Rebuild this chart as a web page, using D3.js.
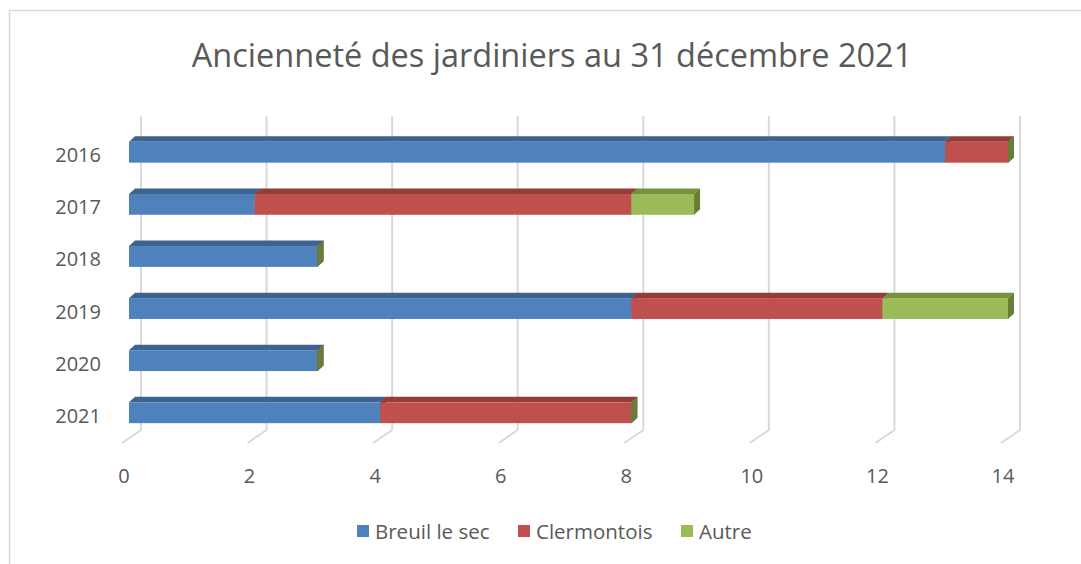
<!DOCTYPE html>
<html>
<head>
<meta charset="utf-8">
<script src="https://cdn.jsdelivr.net/npm/d3@7"></script>
<style>
  body { margin: 0; background: #fff; }
  text { font-family: "Open Sans", sans-serif; fill: #595959; }
</style>
</head>
<body>
<svg width="1081" height="564"></svg>
<script>
const years = ['2016', '2017', '2018', '2019', '2020', '2021'];
const seriesNames = ['Breuil le sec', 'Clermontois', 'Autre'];
const breuil = [13, 2, 3, 8, 3, 4];
const clermontois = [1, 6, 0, 4, 0, 4];
const autre = [0, 1, 0, 2, 0, 0];
const xTicks = [0, 2, 4, 6, 8, 10, 12, 14];

const colors = ['#4f81bd', '#c0504d', '#9bbb59'];
const topColors = ['#3d6391', '#933c3a', '#77913f'];
const sideColors = ['#37587f', '#7f3331', '#677e36'];

const svg = d3.select('svg');
const width = Number(svg.attr('width')), height = Number(svg.attr('height'));

// chart frame
svg.append('rect')
    .attr('x', 9.5).attr('y', 10.5)
    .attr('width', width + 20).attr('height', height + 20)
    .attr('fill', 'none').attr('stroke', '#d9d9d9').attr('stroke-width', 1.5);

svg.append('text')
    .attr('x', 552).attr('y', 67)
    .attr('text-anchor', 'middle')
    .style('font-size', '32.5px')
    .text('Ancienneté des jardiniers au 31 décembre 2021');

const dx = 6, dy = 5.5;           // bar depth
const wallDx = 12, floorDx = -7;  // back wall / floor front offsets

const xScale = d3.scaleLinear().domain([0, 14]).range([129, 1008]);
const yScale = d3.scaleBand().domain(years).range([121, 444])
    .paddingInner(0.6).paddingOuter(0.4);

// back wall gridlines + floor
const grid = svg.append('g');
xTicks.forEach(t => {
    const xb = xScale(t) + wallDx;
    grid.append('path')
        .attr('d', `M${xb},116 L${xb},430 L${xScale(t) + floorDx},443`)
        .attr('fill', 'none').attr('stroke', '#d9d9d9').attr('stroke-width', 2);
});

// x axis labels
svg.append('g').selectAll('text').data(xTicks).enter().append('text')
    .attr('x', d => xScale(d) + floorDx + 2)
    .attr('y', 483)
    .attr('text-anchor', 'middle')
    .style('font-size', '20px')
    .text(d => d);

// y axis labels
svg.append('g').selectAll('text').data(years).enter().append('text')
    .attr('x', 101)
    .attr('y', d => yScale(d) + yScale.bandwidth() / 2 + 10)
    .attr('text-anchor', 'end')
    .style('font-size', '20px')
    .text(d => d);

// stacked 3d bars
const table = years.map((y, i) => ({ year: y, 'Breuil le sec': breuil[i], 'Clermontois': clermontois[i], 'Autre': autre[i] }));
const stacked = d3.stack().keys(seriesNames)(table);

const h = yScale.bandwidth();
years.forEach((yr, i) => {
    const g = svg.append('g');
    const y0 = yScale(yr);
    stacked.forEach((s, k) => {
        const x0 = xScale(s[i][0]), x1 = xScale(s[i][1]);
        if (x1 > x0) {
            // top face
            g.append('path')
                .attr('d', `M${x0},${y0} L${x0 + dx},${y0 - dy} L${x1 + dx},${y0 - dy} L${x1},${y0} Z`)
                .attr('fill', topColors[k]);
            // front face
            g.append('rect')
                .attr('x', x0).attr('y', y0)
                .attr('width', x1 - x0).attr('height', h)
                .attr('fill', colors[k]);
        }
        // side face
        g.append('path')
            .attr('d', `M${x1},${y0} L${x1 + dx},${y0 - dy} L${x1 + dx},${y0 + h - dy} L${x1},${y0 + h} Z`)
            .attr('fill', sideColors[k]);
    });
});

// legend
const legendX = [357, 518, 681];
const legend = svg.append('g');
seriesNames.forEach((n, k) => {
    legend.append('rect')
        .attr('x', legendX[k]).attr('y', 525)
        .attr('width', 12).attr('height', 12)
        .attr('fill', colors[k]);
    legend.append('text')
        .attr('x', legendX[k] + 18).attr('y', 539)
        .style('font-size', '20.5px')
        .text(n);
});
</script>
</body>
</html>
